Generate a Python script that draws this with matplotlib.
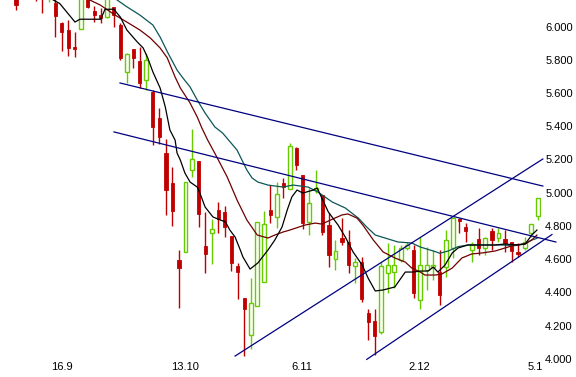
import matplotlib
matplotlib.use('Agg')
import matplotlib.pyplot as plt

# ---- candle data (day index, open, high, low, close) ----
days = [0, 3, 4, 5, 6, 7, 8, 9, 10, 11, 12, 13, 14, 15, 16, 17, 18, 19, 20,
        21, 22, 23, 24, 25, 26, 27, 28, 29, 30, 31, 32, 33, 34, 35, 36, 37, 38, 39, 40,
        41, 42, 43, 44, 45, 46, 47, 48, 49, 50, 51, 52, 53, 54, 55, 56, 57, 58, 59, 60,
        61, 62, 63, 64, 65, 66, 67, 68, 69, 70, 71, 72, 73, 74, 75, 76, 77, 78, 79, 80]
opens = [6.20, 6.24, 6.23, 6.17, 6.143, 6.022, 5.980, 5.878, 5.986, 6.19, 6.095, 6.071, 6.058, 6.119, 6.010, 5.727, 5.866, 5.794, 5.679,
         5.607, 5.450, 5.239, 5.058, 4.595, 4.643, 5.137, 5.191, 4.679, 4.757, 4.896, 4.884, 4.739, 4.558, 4.366, 4.143, 4.317, 4.462, 4.896, 4.854,
         5.058, 5.022, 5.269, 5.107, 4.823, 5.016, 4.986, 4.805, 4.601, 4.727, 4.703, 4.558, 4.583, 4.276, 4.227, 4.161, 4.516, 4.522, 4.595, 4.667,
         4.655, 4.354, 4.534, 4.552, 4.522, 4.552, 4.667, 4.842, 4.793, 4.655, 4.721, 4.667, 4.769, 4.727, 4.721, 4.703, 4.643, 4.667, 4.757, 4.860]
highs = [6.22, 6.26, 6.25, 6.23, 6.17, 6.028, 6.040, 5.968, 6.21, 6.20, 6.125, 6.113, 6.20, 6.119, 6.022, 5.842, 5.866, 5.878, 5.842,
         5.619, 5.510, 5.323, 5.155, 4.655, 5.064, 5.383, 5.191, 4.884, 4.842, 4.944, 4.920, 4.739, 4.576, 4.366, 4.486, 4.823, 4.890, 5.046, 5.064,
         5.088, 5.299, 5.275, 5.107, 5.03, 5.137, 4.986, 4.878, 4.715, 4.848, 4.775, 4.607, 4.613, 4.299, 4.299, 4.583, 4.697, 4.685, 4.685, 4.703,
         4.685, 4.733, 4.673, 4.655, 4.655, 4.775, 4.854, 4.848, 4.817, 4.703, 4.787, 4.733, 4.787, 4.787, 4.775, 4.703, 4.697, 4.733, 4.811, 4.968]
lows = [6.101, 6.155, 6.083, 6.15, 5.938, 5.853, 5.823, 5.817, 5.986, 6.113, 6.028, 6.022, 6.052, 5.998, 5.799, 5.661, 5.751, 5.631, 5.619,
        5.287, 5.293, 4.866, 4.800, 4.305, 4.643, 5.094, 4.793, 4.516, 4.570, 4.757, 4.733, 4.528, 4.360, 4.016, 4.058, 4.317, 4.462, 4.817, 4.787,
        4.968, 5.022, 5.137, 4.781, 4.745, 4.998, 4.745, 4.552, 4.534, 4.685, 4.516, 4.456, 4.341, 4.113, 4.022, 4.149, 4.395, 4.426, 4.583, 4.655,
        4.366, 4.299, 4.414, 4.474, 4.323, 4.492, 4.607, 4.757, 4.703, 4.583, 4.625, 4.625, 4.655, 4.703, 4.643, 4.583, 4.613, 4.655, 4.733, 4.836]
closes = [6.131, 6.19, 6.18, 6.21, 6.065, 5.968, 5.872, 5.866, 6.19, 6.119, 6.071, 6.052, 6.18, 6.071, 5.811, 5.836, 5.811, 5.661, 5.799,
          5.396, 5.335, 5.016, 4.890, 4.547, 5.064, 5.203, 4.872, 4.631, 4.781, 4.842, 4.793, 4.576, 4.522, 4.299, 4.336, 4.823, 4.811, 4.866, 4.992,
          5.034, 5.281, 5.167, 4.817, 4.938, 5.028, 4.763, 4.625, 4.649, 4.703, 4.564, 4.583, 4.360, 4.221, 4.137, 4.558, 4.564, 4.564, 4.667, 4.685,
          4.396, 4.564, 4.564, 4.564, 4.384, 4.715, 4.848, 4.829, 4.769, 4.691, 4.667, 4.727, 4.715, 4.757, 4.697, 4.649, 4.631, 4.703, 4.811, 4.968]

# ---- moving averages ----
fast_x = [5.7, 6.7, 9.05, 9.8, 13.0, 13.65, 15.0, 16.0, 17.0, 18.6, 19.5, 20.2, 21.0, 22.1, 22.9, 23.6, 24.4, 24.7, 25.2,
          25.9, 26.7, 27.8, 28.2, 29.0, 30.2, 31.3, 32.1, 32.8, 33.6, 34.4, 34.8, 35.9, 37.1, 38.65, 39.7, 40.8, 41.6,
          42.3, 43.1, 44.0, 45.6, 46.2, 46.9, 47.9, 49.4, 50.5, 51.7, 53.1, 54.0, 55.1, 56.3, 58.1, 59.7, 60.9, 62.0,
          63.2, 64.0, 64.7, 65.8, 66.9, 67.8, 69.3, 71.5, 73.5, 75.0, 77.0, 78.1, 79.1, 79.9]
fast_y = [6.161, 6.14, 6.028, 6.045, 6.045, 6.105, 6.105, 6.058, 5.980, 5.908, 5.872, 5.812, 5.727, 5.631, 5.516, 5.378, 5.317, 5.239, 5.197,
          5.119, 5.064, 5.034, 4.998, 4.914, 4.854, 4.836, 4.825, 4.775, 4.733, 4.655, 4.613, 4.540, 4.577, 4.655, 4.715, 4.793, 4.896,
          4.974, 5.016, 4.998, 5.016, 5.028, 4.968, 4.884, 4.805, 4.733, 4.643, 4.564, 4.486, 4.408, 4.414, 4.432, 4.522, 4.522, 4.528,
          4.528, 4.552, 4.522, 4.564, 4.637, 4.667, 4.685, 4.685, 4.685, 4.691, 4.685, 4.691, 4.745, 4.775]

mid_x = [11.3, 12.9, 15.2, 17.0, 19.0, 20.6, 22.1, 23.2, 24.4, 25.2, 26.7, 27.8, 28.5, 29.4, 30.8, 32.4, 33.9, 35.4, 37.0,
         38.65, 39.7, 40.95, 42.0, 44.3, 45.9, 46.9, 48.5, 50.0, 50.9, 52.3, 53.2, 54.8, 56.3, 58.1, 59.7, 60.7, 62.0,
         62.7, 64.3, 65.3, 66.9, 68.4, 69.9, 71.5, 73.5, 75.0, 76.5, 78.1, 79.1, 79.9]
mid_y = [6.161, 6.131, 6.070, 6.028, 5.980, 5.932, 5.872, 5.812, 5.697, 5.631, 5.540, 5.456, 5.390, 5.317, 5.215, 5.094, 4.956, 4.836, 4.745,
         4.727, 4.745, 4.763, 4.775, 4.805, 4.817, 4.811, 4.840, 4.866, 4.872, 4.847, 4.805, 4.715, 4.643, 4.607, 4.582, 4.546, 4.522,
         4.504, 4.504, 4.510, 4.546, 4.607, 4.631, 4.637, 4.649, 4.667, 4.685, 4.691, 4.715, 4.745]

slow_x = [15.5, 17.0, 19.0, 21.0, 22.1, 23.3, 24.7, 25.6, 26.7, 27.8, 29.0, 30.5, 31.7, 33.9, 35.4, 36.2, 37.1, 38.65,
          40.95, 42.5, 44.8, 46.3, 48.5, 50.5, 52.5, 53.8, 55.1, 56.6, 58.6, 60.7, 62.0, 64.3, 65.0, 66.3, 67.8, 69.3,
          71.5, 74.5, 76.5, 78.1, 79.1, 79.9]
slow_y = [6.161, 6.120, 6.070, 6.010, 5.938, 5.842, 5.739, 5.691, 5.637, 5.558, 5.480, 5.396, 5.359, 5.257, 5.137, 5.089, 5.064, 5.046,
          5.034, 5.046, 5.034, 5.004, 4.944, 4.908, 4.847, 4.793, 4.745, 4.727, 4.703, 4.697, 4.673, 4.645, 4.635, 4.649, 4.675, 4.685,
          4.685, 4.685, 4.681, 4.695, 4.715, 4.725]

# ---- trend channel lines (start/end) ----
trend_lines = [
    ((15.95, 5.661), (80.8, 5.040)),
    ((15.03, 5.366), (82.8, 4.703)),
    ((33.6, 4.016), (80.8, 5.203)),
    ((53.8, 3.996), (82.2, 4.748)),
]

price_ticks = [4.0, 4.2, 4.4, 4.6, 4.8, 5.0, 5.2, 5.4, 5.6, 5.8, 6.0]
date_pos = [7.05, 25.9, 43.9, 61.8, 79.6]
date_labels = ['16.9', '13.10', '6.11', '2.12', '5.1']

RED = '#c00000'
GREEN = '#66cc00'

plt.rcParams['font.family'] = ['Liberation Sans', 'DejaVu Sans']

fig = plt.figure(figsize=(5.76, 3.77), dpi=100)
ax = fig.add_axes([0, 17 / 377, 541 / 576, 360 / 377])

body_w = 0.6
for d, o, h, l, c in zip(days, opens, highs, lows, closes):
    up = c >= o
    col = GREEN if up else RED
    ax.vlines(d, l, h, color=col, linewidth=1.0, zorder=2)
    lo, hi = min(o, c), max(o, c)
    if up:
        ax.bar(d, hi - lo, bottom=lo, width=body_w, facecolor='white',
               edgecolor=col, linewidth=1.0, zorder=3)
    else:
        ax.bar(d, hi - lo, bottom=lo, width=body_w * 0.8, facecolor=col,
               edgecolor=col, linewidth=0.6, zorder=3)

ax.plot(slow_x, slow_y, color='#0d5656', linewidth=0.9, zorder=4)
ax.plot(mid_x, mid_y, color='#700000', linewidth=0.9, zorder=4)
ax.plot(fast_x, fast_y, color='black', linewidth=0.9, zorder=4)

for (x0, y0), (x1, y1) in trend_lines:
    ax.plot([x0, x1], [y0, y1], color='#000080', linewidth=0.9, zorder=5, clip_on=False)

ax.set_xlim(-2.454, 80.52)
ax.set_ylim(3.9922, 6.1608)

ax.yaxis.tick_right()
ax.set_yticks(price_ticks)
ax.set_yticklabels(['%.3f' % t for t in price_ticks])
ax.set_xticks(date_pos)
ax.set_xticklabels(date_labels)
ax.tick_params(axis='both', length=0, labelsize=8, colors='black')
ax.tick_params(axis='y', pad=3)
ax.tick_params(axis='x', pad=1.5)
for s in ax.spines.values():
    s.set_visible(False)

fig.savefig('out.png', dpi=100)
